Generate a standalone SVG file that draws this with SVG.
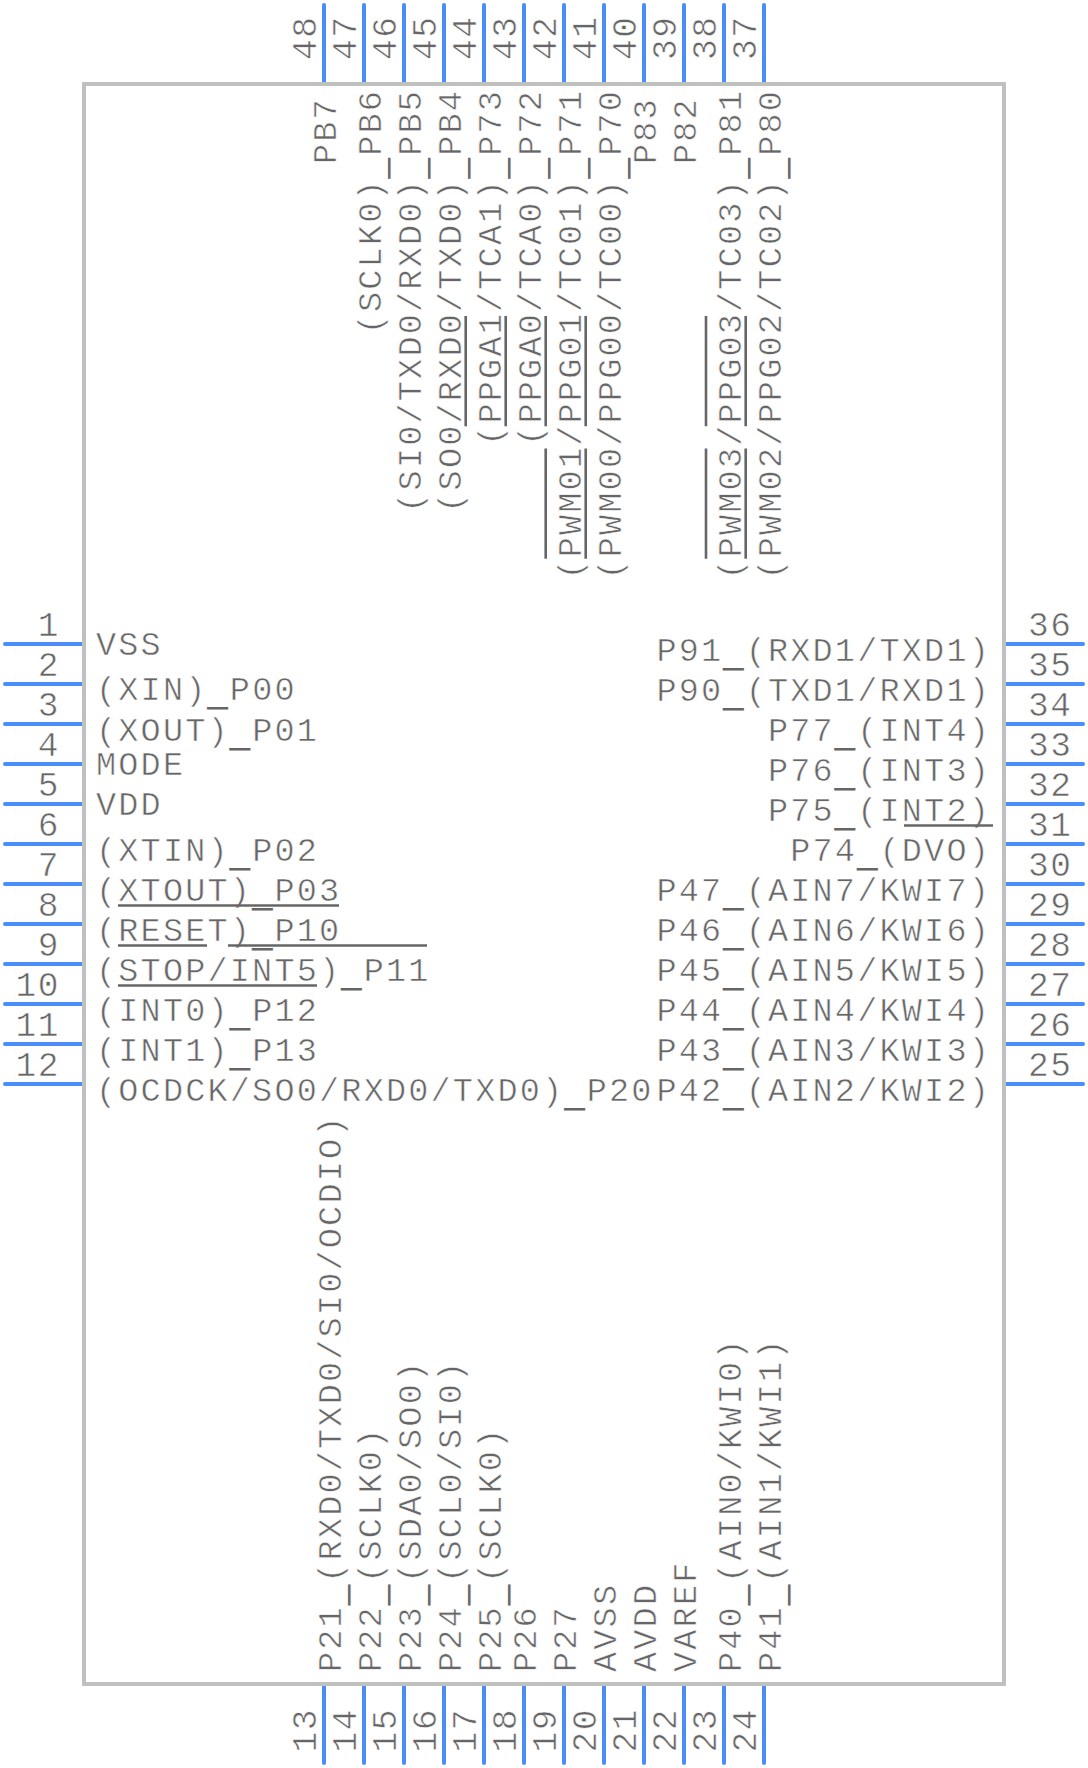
<svg xmlns="http://www.w3.org/2000/svg" width="1088" height="1768" viewBox="0 0 1088 1768">
<style>
text{font-family:"Liberation Mono","Courier New",monospace;font-size:33.5px;letter-spacing:2.2px;fill:#666;stroke:#fff;stroke-width:.55px}
.n{font-size:34.5px;letter-spacing:1.6px}
.e{text-anchor:end}
.u{stroke:#666;stroke-width:.9px}
.p{stroke:#4a8df8;stroke-width:4;stroke-linecap:round;fill:none}
.b{stroke:#666;stroke-width:2.6;fill:none}
</style>
<rect width="1088" height="1768" fill="#fff"/>
<g id="connectors">
<path class="p" d="M5 644H84M5 684H84M5 724H84M5 764H84M5 804H84M5 844H84M5 884H84M5 924H84M5 964H84M5 1004H84M5 1044H84M5 1084H84"/>
<path class="p" d="M1083 644H1004M1083 684H1004M1083 724H1004M1083 764H1004M1083 804H1004M1083 844H1004M1083 884H1004M1083 924H1004M1083 964H1004M1083 1004H1004M1083 1044H1004M1083 1084H1004"/>
<path class="p" d="M324 5V84M364 5V84M404 5V84M444 5V84M484 5V84M524 5V84M564 5V84M604 5V84M644 5V84M684 5V84M724 5V84M764 5V84"/>
<path class="p" d="M324 1763V1684M364 1763V1684M404 1763V1684M444 1763V1684M484 1763V1684M524 1763V1684M564 1763V1684M604 1763V1684M644 1763V1684M684 1763V1684M724 1763V1684M764 1763V1684"/>
</g>
<g id="body"><rect x="84" y="84" width="920" height="1600" fill="none" stroke="#c0c0c0" stroke-width="4"/></g>
<g id="pins-left">
<g id="pin-1"><text class="n e" x="60" y="635.5">1</text><text x="96" y="655">VSS</text></g>
<g id="pin-2"><text class="n e" x="60" y="675.5">2</text><text x="96" y="700">(XIN)<tspan class="u" dy="5">_</tspan><tspan dy="-5">P00</tspan></text></g>
<g id="pin-3"><text class="n e" x="60" y="715.5">3</text><text x="96" y="741">(XOUT)<tspan class="u" dy="5">_</tspan><tspan dy="-5">P01</tspan></text></g>
<g id="pin-4"><text class="n e" x="60" y="755.5">4</text><text x="96" y="775">MODE</text></g>
<g id="pin-5"><text class="n e" x="60" y="795.5">5</text><text x="96" y="815">VDD</text></g>
<g id="pin-6"><text class="n e" x="60" y="835.5">6</text><text x="96" y="861">(XTIN)<tspan class="u" dy="5">_</tspan><tspan dy="-5">P02</tspan></text></g>
<g id="pin-7"><text class="n e" x="60" y="875.5">7</text><text x="96" y="901">(XTOUT)<tspan class="u" dy="5">_</tspan><tspan dy="-5">P03</tspan></text><path class="b" d="M118 905.5H339"/></g>
<g id="pin-8"><text class="n e" x="60" y="915.5">8</text><text x="96" y="941">(RESET)<tspan class="u" dy="5">_</tspan><tspan dy="-5">P10</tspan></text><path class="b" d="M118 945.5H207M228 945.5H427"/></g>
<g id="pin-9"><text class="n e" x="60" y="955.5">9</text><text x="96" y="981">(STOP/INT5)<tspan class="u" dy="5">_</tspan><tspan dy="-5">P11</tspan></text><path class="b" d="M118 985.5H317"/></g>
<g id="pin-10"><text class="n e" x="60" y="995.5">10</text><text x="96" y="1021">(INT0)<tspan class="u" dy="5">_</tspan><tspan dy="-5">P12</tspan></text></g>
<g id="pin-11"><text class="n e" x="60" y="1035.5">11</text><text x="96" y="1061">(INT1)<tspan class="u" dy="5">_</tspan><tspan dy="-5">P13</tspan></text></g>
<g id="pin-12"><text class="n e" x="60" y="1075.5">12</text><text x="96" y="1101">(OCDCK/SO0/RXD0/TXD0)<tspan class="u" dy="5">_</tspan><tspan dy="-5">P20</tspan></text></g>
</g>
<g id="pins-right">
<g id="pin-36"><text class="n" x="1028" y="635.5">36</text><text class="e" x="991" y="661">P91<tspan class="u" dy="5">_</tspan><tspan dy="-5">(RXD1/TXD1)</tspan></text></g>
<g id="pin-35"><text class="n" x="1028" y="675.5">35</text><text class="e" x="991" y="701">P90<tspan class="u" dy="5">_</tspan><tspan dy="-5">(TXD1/RXD1)</tspan></text></g>
<g id="pin-34"><text class="n" x="1028" y="715.5">34</text><text class="e" x="991" y="741">P77<tspan class="u" dy="5">_</tspan><tspan dy="-5">(INT4)</tspan></text></g>
<g id="pin-33"><text class="n" x="1028" y="755.5">33</text><text class="e" x="991" y="781">P76<tspan class="u" dy="5">_</tspan><tspan dy="-5">(INT3)</tspan></text></g>
<g id="pin-32"><text class="n" x="1028" y="795.5">32</text><text class="e" x="991" y="821">P75<tspan class="u" dy="5">_</tspan><tspan dy="-5">(INT2)</tspan></text><path class="b" d="M904 825.5H993"/></g>
<g id="pin-31"><text class="n" x="1028" y="835.5">31</text><text class="e" x="991" y="861">P74<tspan class="u" dy="5">_</tspan><tspan dy="-5">(DVO)</tspan></text></g>
<g id="pin-30"><text class="n" x="1028" y="875.5">30</text><text class="e" x="991" y="901">P47<tspan class="u" dy="5">_</tspan><tspan dy="-5">(AIN7/KWI7)</tspan></text></g>
<g id="pin-29"><text class="n" x="1028" y="915.5">29</text><text class="e" x="991" y="941">P46<tspan class="u" dy="5">_</tspan><tspan dy="-5">(AIN6/KWI6)</tspan></text></g>
<g id="pin-28"><text class="n" x="1028" y="955.5">28</text><text class="e" x="991" y="981">P45<tspan class="u" dy="5">_</tspan><tspan dy="-5">(AIN5/KWI5)</tspan></text></g>
<g id="pin-27"><text class="n" x="1028" y="995.5">27</text><text class="e" x="991" y="1021">P44<tspan class="u" dy="5">_</tspan><tspan dy="-5">(AIN4/KWI4)</tspan></text></g>
<g id="pin-26"><text class="n" x="1028" y="1035.5">26</text><text class="e" x="991" y="1061">P43<tspan class="u" dy="5">_</tspan><tspan dy="-5">(AIN3/KWI3)</tspan></text></g>
<g id="pin-25"><text class="n" x="1028" y="1075.5">25</text><text class="e" x="991" y="1101">P42<tspan class="u" dy="5">_</tspan><tspan dy="-5">(AIN2/KWI2)</tspan></text></g>
</g>
<g id="pins-top">
<g id="pin-48"><text class="n" transform="translate(316 60) rotate(-90)">48</text><text transform="translate(336 164) rotate(-90)">PB7</text></g>
<g id="pin-47"><text class="n" transform="translate(356 60) rotate(-90)">47</text><text transform="translate(381 334.3) rotate(-90)">(SCLK0)<tspan class="u" dy="5">_</tspan><tspan dy="-5">PB6</tspan></text></g>
<g id="pin-46"><text class="n" transform="translate(396 60) rotate(-90)">46</text><text transform="translate(421 512.7) rotate(-90)">(SI0/TXD0/RXD0)<tspan class="u" dy="5">_</tspan><tspan dy="-5">PB5</tspan></text></g>
<g id="pin-45"><text class="n" transform="translate(436 60) rotate(-90)">45</text><text transform="translate(461 512.7) rotate(-90)">(SO0/RXD0/TXD0)<tspan class="u" dy="5">_</tspan><tspan dy="-5">PB4</tspan></text><path class="b" d="M465.7 316V426.3"/></g>
<g id="pin-44"><text class="n" transform="translate(476 60) rotate(-90)">44</text><text transform="translate(501 445.8) rotate(-90)">(PPGA1/TCA1)<tspan class="u" dy="5">_</tspan><tspan dy="-5">P73</tspan></text><path class="b" d="M505.7 316V426.3"/></g>
<g id="pin-43"><text class="n" transform="translate(516 60) rotate(-90)">43</text><text transform="translate(541 445.8) rotate(-90)">(PPGA0/TCA0)<tspan class="u" dy="5">_</tspan><tspan dy="-5">P72</tspan></text><path class="b" d="M545.7 316V426.3"/></g>
<g id="pin-42"><text class="n" transform="translate(556 60) rotate(-90)">42</text><text transform="translate(581 579.6) rotate(-90)">(PWM01/PPG01/TC01)<tspan class="u" dy="5">_</tspan><tspan dy="-5">P71</tspan></text><path class="b" d="M545.7 448.5V558.8M585.7 316V426.3"/></g>
<g id="pin-41"><text class="n" transform="translate(596 60) rotate(-90)">41</text><text transform="translate(621 579.6) rotate(-90)">(PWM00/PPG00/TC00)<tspan class="u" dy="5">_</tspan><tspan dy="-5">P70</tspan></text><path class="b" d="M585.7 448.5V558.8"/></g>
<g id="pin-40"><text class="n" transform="translate(636 60) rotate(-90)">40</text><text transform="translate(656 164) rotate(-90)">P83</text></g>
<g id="pin-39"><text class="n" transform="translate(676 60) rotate(-90)">39</text><text transform="translate(696 164) rotate(-90)">P82</text></g>
<g id="pin-38"><text class="n" transform="translate(716 60) rotate(-90)">38</text><text transform="translate(741 579.6) rotate(-90)">(PWM03/PPG03/TC03)<tspan class="u" dy="5">_</tspan><tspan dy="-5">P81</tspan></text><path class="b" d="M706 316V426.3M706 448.5V558.8"/></g>
<g id="pin-37"><text class="n" transform="translate(756 60) rotate(-90)">37</text><text transform="translate(781 579.6) rotate(-90)">(PWM02/PPG02/TC02)<tspan class="u" dy="5">_</tspan><tspan dy="-5">P80</tspan></text><path class="b" d="M745.7 316V426.3M745.7 448.5V558.8"/></g>
</g>
<g id="pins-bottom">
<g id="pin-13"><text class="n" transform="translate(316 1752.6) rotate(-90)">13</text><text transform="translate(341 1672) rotate(-90)">P21<tspan class="u" dy="5">_</tspan><tspan dy="-5">(RXD0/TXD0/SI0/OCDIO)</tspan></text></g>
<g id="pin-14"><text class="n" transform="translate(356 1752.6) rotate(-90)">14</text><text transform="translate(381 1672) rotate(-90)">P22<tspan class="u" dy="5">_</tspan><tspan dy="-5">(SCLK0)</tspan></text></g>
<g id="pin-15"><text class="n" transform="translate(396 1752.6) rotate(-90)">15</text><text transform="translate(421 1672) rotate(-90)">P23<tspan class="u" dy="5">_</tspan><tspan dy="-5">(SDA0/SO0)</tspan></text></g>
<g id="pin-16"><text class="n" transform="translate(436 1752.6) rotate(-90)">16</text><text transform="translate(461 1672) rotate(-90)">P24<tspan class="u" dy="5">_</tspan><tspan dy="-5">(SCL0/SI0)</tspan></text></g>
<g id="pin-17"><text class="n" transform="translate(476 1752.6) rotate(-90)">17</text><text transform="translate(501 1672) rotate(-90)">P25<tspan class="u" dy="5">_</tspan><tspan dy="-5">(SCLK0)</tspan></text></g>
<g id="pin-18"><text class="n" transform="translate(516 1752.6) rotate(-90)">18</text><text transform="translate(536 1672) rotate(-90)">P26</text></g>
<g id="pin-19"><text class="n" transform="translate(556 1752.6) rotate(-90)">19</text><text transform="translate(576 1672) rotate(-90)">P27</text></g>
<g id="pin-20"><text class="n" transform="translate(596 1752.6) rotate(-90)">20</text><text transform="translate(616 1672) rotate(-90)">AVSS</text></g>
<g id="pin-21"><text class="n" transform="translate(636 1752.6) rotate(-90)">21</text><text transform="translate(656 1672) rotate(-90)">AVDD</text></g>
<g id="pin-22"><text class="n" transform="translate(676 1752.6) rotate(-90)">22</text><text transform="translate(696 1672) rotate(-90)">VAREF</text></g>
<g id="pin-23"><text class="n" transform="translate(716 1752.6) rotate(-90)">23</text><text transform="translate(741 1672) rotate(-90)">P40<tspan class="u" dy="5">_</tspan><tspan dy="-5">(AIN0/KWI0)</tspan></text></g>
<g id="pin-24"><text class="n" transform="translate(756 1752.6) rotate(-90)">24</text><text transform="translate(781 1672) rotate(-90)">P41<tspan class="u" dy="5">_</tspan><tspan dy="-5">(AIN1/KWI1)</tspan></text></g>
</g>
</svg>
